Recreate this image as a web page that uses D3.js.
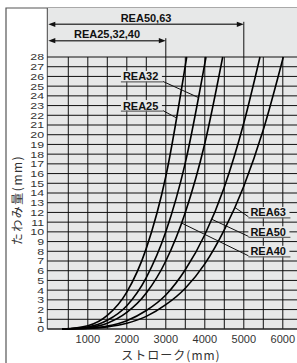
<!DOCTYPE html>
<html>
<head>
<meta charset="utf-8">
<script src="https://cdn.jsdelivr.net/npm/d3@7"></script>
<style>
body { margin: 0; background: #fff; }
svg { display: block; }
text { font-family: "Liberation Sans", Arial, sans-serif; fill: #333; }
</style>
</head>
<body>
<div id="chart"></div>
<script>
// stroke (mm) / deflection (mm)
var rea25 = [[340, 0], [1000, 0.34], [1500, 1.4], [2000, 3.8], [2500, 8.3], [3000, 15.7], [3536, 28]];
var rea32 = [[340, 0], [1000, 0.21], [1500, 0.9], [2000, 2.4], [2500, 5.3], [3000, 10.0], [3500, 17.1], [4031, 28]];
var rea40 = [[340, 0], [1000, 0.15], [1500, 0.6], [2000, 1.7], [2500, 3.7], [3000, 7.0], [3500, 12.0], [4000, 19.1], [4459, 28]];
var rea50 = [[340, 0], [1000, 0.08], [1500, 0.3], [2000, 0.86], [2500, 1.9], [3000, 3.5], [3500, 6.1], [4000, 9.7], [4500, 14.6], [5000, 21.2], [5415, 28]];
var rea63 = [[340, 0], [1000, 0.05], [1500, 0.22], [2000, 0.6], [2500, 1.3], [3000, 2.5], [3500, 4.2], [4000, 6.7], [4500, 10.2], [5000, 14.7], [5500, 20.5], [6013, 28]];

var seriesNames = ["REA25", "REA32", "REA40", "REA50", "REA63"];
var xTicks = [1000, 2000, 3000, 4000, 5000, 6000];

// labels: name, text start [stroke, deflection], leader end on the curve [stroke, deflection]
var leftLabels = [["REA32", 1900, 26, 3851, 23.8], ["REA25", 1900, 23, 3287, 21.7]];
var rightLabels = [["REA63", 5170, 12, 4774, 12.5], ["REA50", 5170, 10, 4177, 11.3], ["REA40", 5170, 8, 3408, 10.9]];

// range arrows in the header
var ranges = [["REA50,63", 5000], ["REA25,32,40", 3000]];

function init() {

    var w = 297;
    var h = 363;

    var x = d3.scaleLinear().domain([0, 6000]).range([48.8, 282.8]);
    var y = d3.scaleLinear().domain([0, 28]).range([329, 57]);

    var left = 47.3;
    var right = 297;
    var top = 8;

    var svg = d3.select("#chart")
                .append("svg")
                .attr("width", w)
                .attr("height", h);

    // outer frame
    svg.append("path")
       .attr("d", "M6," + h + "V" + top + "H" + w)
       .attr("fill", "none")
       .attr("stroke", "#555")
       .attr("stroke-width", 1.2);

    // grey panel
    svg.append("rect")
       .attr("x", left)
       .attr("y", top)
       .attr("width", right - left)
       .attr("height", y(0) - top)
       .attr("fill", "#e7e8e8");

    svg.append("line")
       .attr("x1", left).attr("x2", left)
       .attr("y1", top).attr("y2", y(0))
       .attr("stroke", "#444")
       .attr("stroke-width", 1);

    // grid
    svg.selectAll(".hgrid")
       .data(d3.range(1, 29))
       .enter()
       .append("line")
       .attr("class", "hgrid")
       .attr("x1", left)
       .attr("x2", right)
       .attr("y1", function(d) { return y(d); })
       .attr("y2", function(d) { return y(d); })
       .attr("stroke", "#111")
       .attr("stroke-width", 1);

    svg.selectAll(".vgrid")
       .data(d3.range(500, 7000, 500))
       .enter()
       .append("line")
       .attr("class", "vgrid")
       .attr("x1", function(d) { return x(d); })
       .attr("x2", function(d) { return x(d); })
       .attr("y1", y(0))
       .attr("y2", y(28))
       .attr("stroke", "#111")
       .attr("stroke-width", 1);

    svg.append("line")
       .attr("x1", left).attr("x2", right)
       .attr("y1", y(0)).attr("y2", y(0))
       .attr("stroke", "#222")
       .attr("stroke-width", 1.4);

    // header range arrows
    var rangeY = [24.3, 40.7];
    ranges.forEach(function(r, i) {
        var ay = rangeY[i];
        var x0 = left + 1;
        var x1 = x(r[1]);
        svg.append("line")
           .attr("x1", x0 + 4).attr("x2", x1 - 4)
           .attr("y1", ay).attr("y2", ay)
           .attr("stroke", "#444")
           .attr("stroke-width", 1.4);
        svg.append("path")
           .attr("d", "M" + x0 + "," + ay + "l7,-2.6v5.2z")
           .attr("fill", "#111");
        svg.append("path")
           .attr("d", "M" + x1 + "," + ay + "l-7,-2.6v5.2z")
           .attr("fill", "#111");
        svg.append("line")
           .attr("x1", x1).attr("x2", x1)
           .attr("y1", ay - 2.5).attr("y2", y(28))
           .attr("stroke", "#111")
           .attr("stroke-width", 1);
        svg.append("text")
           .attr("x", (x0 + x1) / 2)
           .attr("y", ay - 2.8)
           .attr("text-anchor", "middle")
           .attr("font-size", "11px")
           .attr("font-weight", "bold")
           .style("fill", "#111")
           .text(r[0]);
    });

    // curves
    var line = d3.line()
                 .x(function(d) { return x(d[0]); })
                 .y(function(d) { return y(d[1]); })
                 .curve(d3.curveMonotoneX);

    svg.selectAll(".curve")
       .data([rea25, rea32, rea40, rea50, rea63])
       .enter()
       .append("path")
       .attr("class", "curve")
       .attr("d", line)
       .attr("fill", "none")
       .attr("stroke", "#000")
       .attr("stroke-width", 1.6);

    // curve labels with leaders
    var drawLabel = function(l, side) {
        var tx = x(l[1]);
        var ty = y(l[2]);
        var tw = 38;
        var ex = side == "left" ? tx + tw + 2 : tx - 1;
        svg.append("line")
           .attr("x1", ex).attr("y1", ty + 5)
           .attr("x2", x(l[3])).attr("y2", y(l[4]))
           .attr("stroke", "#111")
           .attr("stroke-width", 1);
        svg.append("rect")
           .attr("x", tx - 2)
           .attr("y", ty - 5.5)
           .attr("width", tw + 3)
           .attr("height", 10.5)
           .attr("fill", "#e7e8e8");
        svg.append("line")
           .attr("x1", tx - 2).attr("x2", tx + tw + 2)
           .attr("y1", ty + 5.5).attr("y2", ty + 5.5)
           .attr("stroke", "#666")
           .attr("stroke-width", 1.2);
        svg.append("text")
           .attr("x", tx)
           .attr("y", ty + 4)
           .attr("font-size", "11px")
           .attr("font-weight", "bold")
           .style("fill", "#111")
           .text(l[0]);
    };
    leftLabels.forEach(function(l) { drawLabel(l, "left"); });
    rightLabels.forEach(function(l) { drawLabel(l, "right"); });

    // y tick labels (squat digits as in the original)
    svg.selectAll(".ylab")
       .data(d3.range(0, 29))
       .enter()
       .append("text")
       .attr("class", "ylab")
       .attr("transform", function(d) {
           return "translate(44," + (y(d) + 3.4) + ") scale(1.3,1)";
       })
       .attr("text-anchor", "end")
       .attr("font-size", "9.5px")
       .text(function(d) { return d; });

    // x tick labels
    svg.selectAll(".xlab")
       .data(xTicks)
       .enter()
       .append("text")
       .attr("class", "xlab")
       .attr("x", function(d) { return x(d); })
       .attr("y", 343)
       .attr("text-anchor", "middle")
       .attr("font-size", "11px")
       .text(function(d) { return d; });

    svg.append("text")
       .attr("x", 171)
       .attr("y", 360)
       .attr("text-anchor", "middle")
       .attr("font-size", "12px")
       .attr("letter-spacing", "1px")
       .style("font-family", "'Noto Sans CJK JP', sans-serif")
       .text("ストローク(mm)");

    svg.append("text")
       .attr("transform", "translate(22,200) rotate(-90)")
       .attr("text-anchor", "middle")
       .attr("font-size", "12px")
       .attr("letter-spacing", "1.5px")
       .style("font-family", "'Noto Sans CJK JP', sans-serif")
       .text("たわみ量(mm)");
}

window.onload = init;
</script>
</body>
</html>
